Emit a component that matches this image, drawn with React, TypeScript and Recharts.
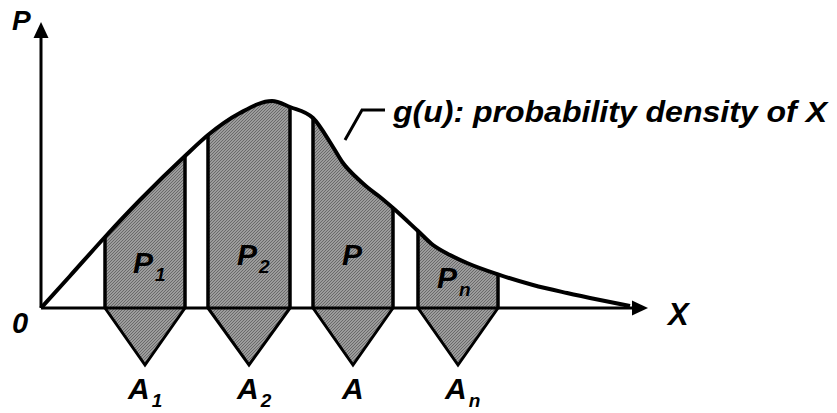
import React from 'react';
import { Area, ComposedChart, Line, ReferenceLine, Scatter, XAxis, YAxis } from 'recharts';

// density curve g(u)
const curveU = [0, 1.45, 3.2, 4.95, 7.2, 8.35, 9.95, 11.55, 12.45, 13.6, 14.6, 15.1, 15.8, 16.3, 16.95, 17.6, 18.85, 19.6, 20.45, 21.3, 22.85, 24.6, 26.3, 27.95, 29.45];
const curveG = [0, 0.16, 0.355, 0.54, 0.76, 0.865, 0.975, 1.035, 1.005, 0.95, 0.805, 0.725, 0.65, 0.605, 0.555, 0.5, 0.385, 0.315, 0.265, 0.225, 0.168, 0.115, 0.075, 0.04, 0.01];

// shaded intervals and their labels
const blockStart = [3.2, 8.35, 13.6, 18.85];
const blockEnd = [7.2, 12.45, 17.6, 22.85];
const blockMain = ['P', 'P', 'P', 'P'];
const blockSub = ['1', '2', '', 'n'];
const blockLabelU = [4.6, 9.8, 15.05, 19.8];
const blockLabelG = [0.175, 0.215, 0.215, 0.1];
const pointMain = ['A', 'A', 'A', 'A'];
const pointSub = ['1', '2', '', 'n'];
const pointLabelU = [4.35, 9.8, 15.05, 20.2];
const pointLabelG = -0.455;
const triangleDepth = -0.285;

// axes ends and annotation
const xArrowU = 30.35;
const yArrowG = 1.43;
const leaderU = [15.2, 16.05, 17.2];
const leaderG = [0.84, 0.99, 0.99];
const noteText = 'g(u): probability density of X';

const X_DOMAIN: [number, number] = [-2.05, 39.8];
const Y_DOMAIN: [number, number] = [-0.525, 1.54];
const FONT = '"Liberation Sans", Arial, sans-serif';
const FILL = 'url(#hatch)';

const curve = curveU.map((u, i) => ({ u, g: curveG[i] }));
const gAt = (u: number) => curve.find((p) => p.u === u)?.g ?? 0;

const blocks = blockStart.map((s, i) => ({
  start: s,
  end: blockEnd[i],
  data: curve.filter((p) => p.u >= s && p.u <= blockEnd[i]),
  triangle: [
    { u: s, g: 0 },
    { u: (s + blockEnd[i]) / 2, g: triangleDepth },
    { u: blockEnd[i], g: 0 },
  ],
}));

const leader = leaderU.map((u, i) => ({ u, g: leaderG[i] }));

type Label = { u: number; g: number; main: string; sub?: string; size: number; fit?: number };

const labels: Label[] = [
  { u: -1.45, g: 1.39, main: 'P', size: 28 },
  { u: -1.45, g: -0.125, main: '0', size: 29 },
  { u: 31.35, g: -0.085, main: 'X', size: 31 },
  { u: 17.6, g: 0.93, main: noteText, size: 29, fit: 434 },
  ...blockMain.map((m, i) => ({ u: blockLabelU[i], g: blockLabelG[i], main: m, sub: blockSub[i], size: 30 })),
  ...pointMain.map((m, i) => ({ u: pointLabelU[i], g: pointLabelG, main: m, sub: pointSub[i], size: 30 })),
];

const arrows = [
  { u: 0, g: yArrowG, dir: 'up' },
  { u: xArrowU, g: 0, dir: 'right' },
];

const ArrowHead = (props: any) => {
  const { cx, cy, payload } = props;
  const pts =
    payload.dir === 'up'
      ? `${cx},${cy} ${cx - 7.5},${cy + 16} ${cx + 7.5},${cy + 16}`
      : `${cx},${cy} ${cx - 16},${cy - 7.5} ${cx - 16},${cy + 7.5}`;
  return <polygon points={pts} fill="#000" />;
};

const TextMark = (props: any) => {
  const { cx, cy, payload } = props;
  const p = payload as Label;
  return (
    <text
      x={cx}
      y={cy}
      fontFamily={FONT}
      fontWeight={700}
      fontStyle="italic"
      fontSize={p.size}
      fill="#000"
      textLength={p.fit}
      lengthAdjust={p.fit ? 'spacingAndGlyphs' : undefined}>
      {p.main}
      {p.sub ? (
        <tspan dx={2} dy={8} fontSize={19}>
          {p.sub}
        </tspan>
      ) : null}
    </text>
  );
};

export default function App() {
  return (
    <div style={{ position: 'absolute', left: 0, top: 0, width: 837, height: 413, background: '#fff' }}>
      <svg width={0} height={0} style={{ position: 'absolute' }}>
        <defs>
          <pattern id="hatch" patternUnits="userSpaceOnUse" width={3} height={3}>
            <rect width={3} height={3} fill="#9c9c9c" />
            <path d="M-1,1 l2,-2 M0,3 l3,-3 M2,4 l2,-2" stroke="#6a6a6a" strokeWidth={1} />
          </pattern>
        </defs>
      </svg>
      <ComposedChart width={837} height={413} margin={{ top: 0, right: 0, bottom: 0, left: 0 }}>
        <XAxis type="number" dataKey="u" domain={X_DOMAIN} hide allowDataOverflow />
        <YAxis type="number" domain={Y_DOMAIN} hide allowDataOverflow />

        {blocks.map((b, i) => (
          <Area
            key={`blk-${i}`}
            data={b.data}
            dataKey="g"
            type="monotone"
            baseValue={0}
            fill={FILL}
            fillOpacity={1}
            stroke="none"
            isAnimationActive={false}
          />
        ))}
        {blocks.map((b, i) => (
          <Area
            key={`tri-${i}`}
            data={b.triangle}
            dataKey="g"
            type="linear"
            baseValue={0}
            fill={FILL}
            fillOpacity={1}
            stroke="#000"
            strokeWidth={3}
            strokeLinejoin="miter"
            isAnimationActive={false}
          />
        ))}

        {blocks.map((b, i) => (
          <ReferenceLine
            key={`l-${i}`}
            segment={[{ x: b.start, y: 0 }, { x: b.start, y: gAt(b.start) }]}
            stroke="#000"
            strokeWidth={3.5}
          />
        ))}
        {blocks.map((b, i) => (
          <ReferenceLine
            key={`r-${i}`}
            segment={[{ x: b.end, y: 0 }, { x: b.end, y: gAt(b.end) }]}
            stroke="#000"
            strokeWidth={3.5}
          />
        ))}

        <ReferenceLine segment={[{ x: 0, y: 0 }, { x: xArrowU - 0.7, y: 0 }]} stroke="#000" strokeWidth={3} />
        <ReferenceLine segment={[{ x: 0, y: 0 }, { x: 0, y: yArrowG - 0.07 }]} stroke="#000" strokeWidth={3} />

        <Line
          data={curve}
          dataKey="g"
          type="monotone"
          stroke="#000"
          strokeWidth={4}
          dot={false}
          isAnimationActive={false}
        />
        <Line
          data={leader}
          dataKey="g"
          type="linear"
          stroke="#000"
          strokeWidth={3}
          dot={false}
          isAnimationActive={false}
        />

        <Scatter data={arrows} dataKey="g" shape={ArrowHead} isAnimationActive={false} />
        <Scatter data={labels} dataKey="g" shape={TextMark} isAnimationActive={false} />
      </ComposedChart>
    </div>
  );
}
